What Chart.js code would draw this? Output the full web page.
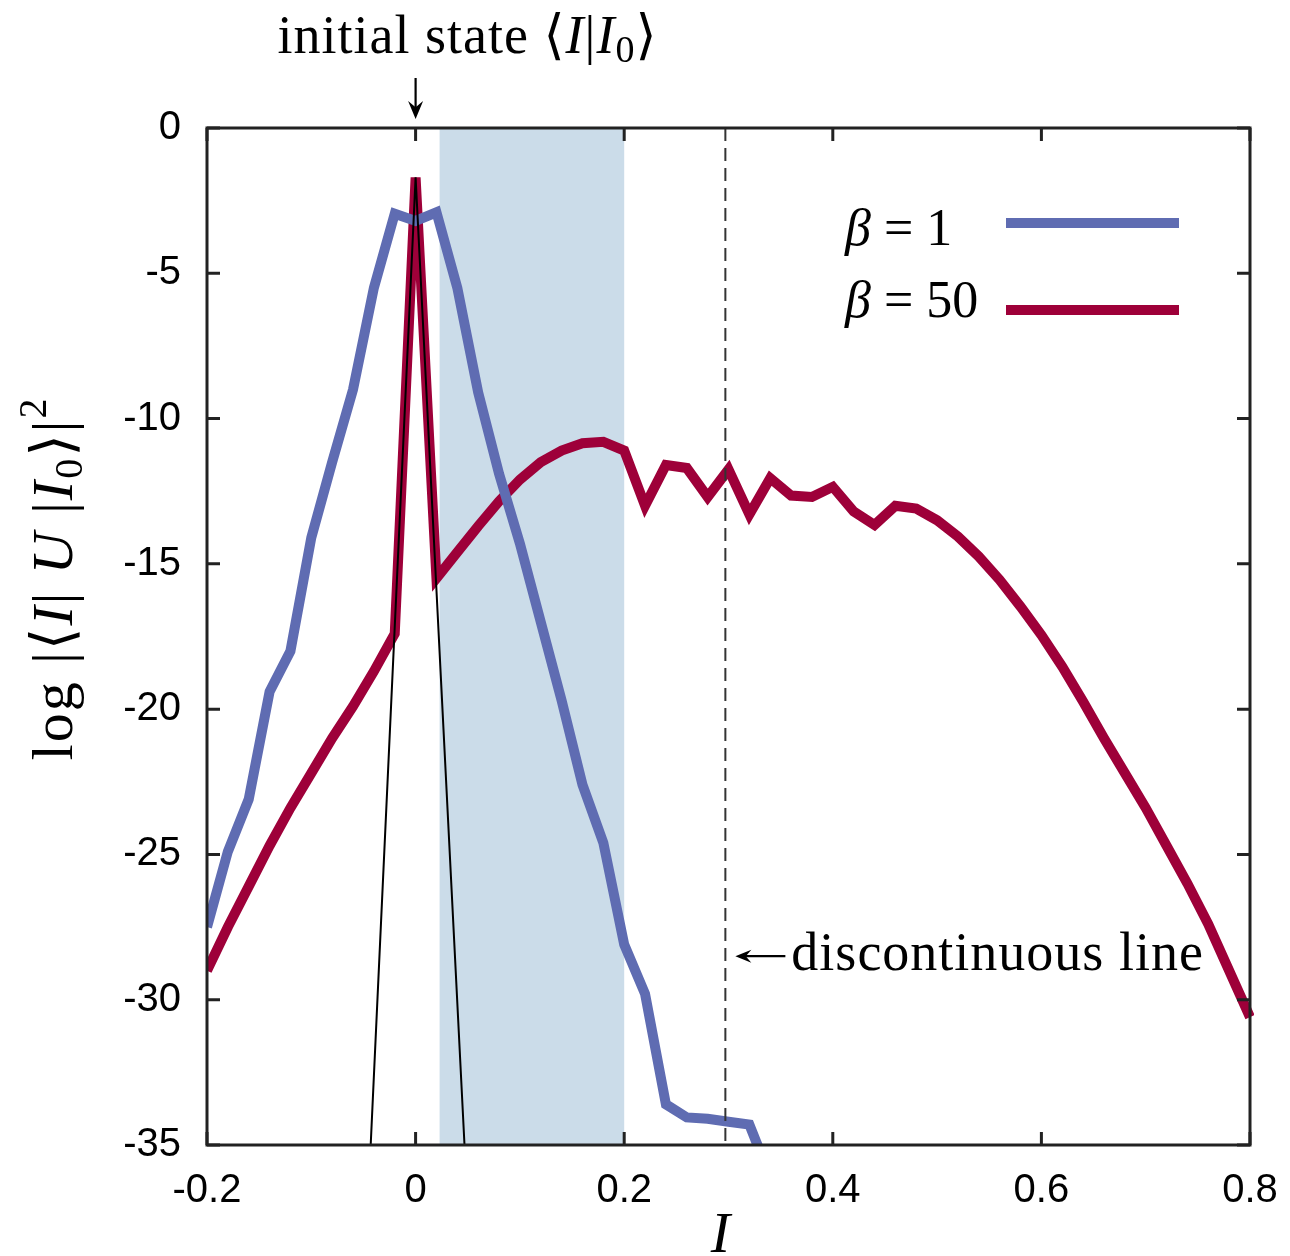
<!DOCTYPE html>
<html><head><meta charset="utf-8">
<script src="https://cdn.jsdelivr.net/npm/chart.js@4.4.1/dist/chart.umd.min.js"></script>
<style>html,body{margin:0;padding:0;background:#fff}#wrap{width:1290px;height:1256px;position:relative}</style>
</head><body><div id="wrap"><canvas id="c" width="1290" height="1256"></canvas></div>
<script>
// ---- data ----
const xTickValues = [-0.2, 0, 0.2, 0.4, 0.6, 0.8];
const xTickLabels = ["-0.2", "0", "0.2", "0.4", "0.6", "0.8"];
const yTickValues = [0, -5, -10, -15, -20, -25, -30, -35];
const yTickLabels = ["0", "-5", "-10", "-15", "-20", "-25", "-30", "-35"];

const beta1X = [-0.20,-0.18,-0.16,-0.14,-0.12,-0.10,-0.08,-0.06,-0.04,-0.02,0.00,0.02,0.04,0.06,0.08,0.10,0.12,0.14,0.16,0.18,0.20,0.22,0.24,0.26,0.28,0.30,0.32,0.34];
const beta1Y = [-27.5,-24.9,-23.1,-19.4,-18.0,-14.1,-11.5,-9.0,-5.5,-2.95,-3.2,-2.9,-5.5,-9.1,-11.9,-14.3,-17.0,-19.7,-22.6,-24.6,-28.1,-29.8,-33.6,-34.05,-34.1,-34.2,-34.3,-36.1];

const beta50X = [-0.20,-0.18,-0.16,-0.14,-0.12,-0.10,-0.08,-0.06,-0.04,-0.02,0.00,0.02,0.04,0.06,0.08,0.10,0.12,0.14,0.16,0.18,0.20,0.22,0.24,0.26,0.28,0.30,0.32,0.34,0.36,0.38,0.40,0.42,0.44,0.46,0.48,0.50,0.52,0.54,0.56,0.58,0.60,0.62,0.64,0.66,0.68,0.70,0.72,0.74,0.76,0.78,0.80];
const beta50Y = [-29.0,-27.5,-26.1,-24.7,-23.4,-22.2,-21.0,-19.9,-18.7,-17.4,-1.7,-15.5,-14.6,-13.7,-12.85,-12.1,-11.5,-11.1,-10.85,-10.8,-11.1,-13.0,-11.6,-11.7,-12.7,-11.75,-13.3,-12.05,-12.65,-12.7,-12.35,-13.2,-13.66,-13.0,-13.1,-13.5,-14.06,-14.75,-15.55,-16.47,-17.45,-18.54,-19.74,-21.0,-22.2,-23.4,-24.7,-26.0,-27.4,-29.0,-30.6];

const initX = [-0.045, 0, 0.05];
const initY = [-36.5, -1.7, -37.2];

const bandRange = [0.023, 0.2];
const dashedX = 0.297;
const seriesLabels = ["β = 1", "β = 50"];

// ---- styles ----
const BLUE = "#5f6cb2", RED = "#9e0039", BAND = "#cbdce9", FRAME = "#222222";
const SERIF = '"Liberation Serif", "DejaVu Serif", serif';
const up = s => `${s}px ${SERIF}`;
const it = s => `italic ${s}px ${SERIF}`;

function rich(ctx, segs, x, y, align) {
  let w = 0;
  segs.forEach(s => { ctx.font = s.f; s.w = ctx.measureText(s.t).width; w += s.w; });
  let cx = align === 'center' ? x - w / 2 : (align === 'right' ? x - w : x);
  ctx.textAlign = 'left';
  ctx.textBaseline = 'alphabetic';
  segs.forEach(s => { ctx.font = s.f; ctx.fillText(s.t, cx, y + (s.dy || 0)); cx += s.w; });
  return w;
}
function arrowHead(ctx, tx, ty, dx, dy, len, half) {
  const px = -dy, py = dx;
  ctx.beginPath();
  ctx.moveTo(tx, ty);
  ctx.lineTo(tx - dx * len + px * half, ty - dy * len + py * half);
  ctx.lineTo(tx - dx * len * 0.65, ty - dy * len * 0.65);
  ctx.lineTo(tx - dx * len - px * half, ty - dy * len - py * half);
  ctx.closePath();
  ctx.fill();
}

const decor = {
  id: 'decor',
  beforeDatasetsDraw(chart) {
    const { ctx, chartArea: a, scales: { x } } = chart;
    ctx.save();
    ctx.fillStyle = BAND;
    const x1 = x.getPixelForValue(bandRange[0]), x2 = x.getPixelForValue(bandRange[1]);
    ctx.fillRect(x1, a.top, x2 - x1, a.bottom - a.top);
    ctx.restore();
  },
  afterDatasetsDraw(chart) {
    const { ctx, chartArea: a, scales: { x, y } } = chart;
    ctx.save();
    const xd = x.getPixelForValue(dashedX);
    ctx.strokeStyle = '#333';
    ctx.lineWidth = 2;
    ctx.setLineDash([13, 7]);
    ctx.beginPath(); ctx.moveTo(xd, a.top); ctx.lineTo(xd, a.bottom); ctx.stroke();
    ctx.setLineDash([]);
    ctx.strokeStyle = FRAME;
    ctx.lineWidth = 3;
    ctx.strokeRect(a.left, a.top, a.right - a.left, a.bottom - a.top);
    const TL = 13;
    ctx.beginPath();
    xTickValues.forEach(v => {
      const p = x.getPixelForValue(v);
      ctx.moveTo(p, a.bottom); ctx.lineTo(p, a.bottom - TL);
      ctx.moveTo(p, a.top); ctx.lineTo(p, a.top + TL);
    });
    yTickValues.forEach(v => {
      const p = y.getPixelForValue(v);
      ctx.moveTo(a.left, p); ctx.lineTo(a.left + TL, p);
      ctx.moveTo(a.right, p); ctx.lineTo(a.right - TL, p);
    });
    ctx.stroke();

    ctx.fillStyle = '#000';
    ctx.strokeStyle = '#000';
    ctx.letterSpacing = '1px';
    const x0 = x.getPixelForValue(0);
    rich(ctx, [
      { t: 'initial state ', f: up(54) },
      { t: '⟨', f: up(54) }, { t: 'I', f: it(54) }, { t: '|', f: up(54) },
      { t: 'I', f: it(54) }, { t: '0', f: up(38), dy: 9 }, { t: '⟩', f: up(54) }
    ], x0 - 138, 53, 'left');
    ctx.lineWidth = 2.2;
    ctx.beginPath(); ctx.moveTo(x0, 78); ctx.lineTo(x0, 110); ctx.stroke();
    arrowHead(ctx, x0, 119, 0, 1, 18, 7.5);

    const ya = y.getPixelForValue(-28.5);
    ctx.beginPath(); ctx.moveTo(xd + 14, ya); ctx.lineTo(xd + 60, ya); ctx.stroke();
    arrowHead(ctx, xd + 10, ya, -1, 0, 16, 6.5);
    rich(ctx, [{ t: 'discontinuous line', f: up(54) }], xd + 66, ya + 14, 'left');
    ctx.letterSpacing = '0px';

    const ds = chart.data.datasets;
    const legendRows = [{ i: 1, ty: 245, ly: 223 }, { i: 2, ty: 317, ly: 310 }];
    legendRows.forEach(r => {
      const lab = ds[r.i].label;
      ctx.fillStyle = '#000';
      rich(ctx, [{ t: lab.slice(0, 1), f: it(52) }, { t: lab.slice(1), f: up(52) }], a.right - 405, r.ty, 'left');
      ctx.strokeStyle = ds[r.i].borderColor;
      ctx.lineWidth = 10;
      ctx.beginPath(); ctx.moveTo(a.right - 244, r.ly); ctx.lineTo(a.right - 71, r.ly); ctx.stroke();
    });

    ctx.fillStyle = '#000';
    rich(ctx, [{ t: 'I', f: it(58) }], (a.left + a.right) / 2 - 8, 1252, 'center');
    ctx.save();
    ctx.translate(72, (a.top + a.bottom) / 2 - 58);
    ctx.rotate(-Math.PI / 2);
    ctx.letterSpacing = '2px';
    rich(ctx, [
      { t: 'log ', f: up(58) }, { t: '|⟨', f: up(58) }, { t: 'I', f: it(58) },
      { t: '| ', f: up(58) }, { t: 'U', f: it(58) }, { t: ' |', f: up(58) },
      { t: 'I', f: it(58) }, { t: '0', f: up(40), dy: 10 }, { t: '⟩|', f: up(58) },
      { t: '2', f: up(40), dy: -26 }
    ], 0, 0, 'center');
    ctx.letterSpacing = '0px';
    ctx.restore();
    ctx.restore();
  }
};

const pts = (xs, ys) => xs.map((v, i) => ({ x: v, y: ys[i] }));

new Chart(document.getElementById('c'), {
  type: 'line',
  data: {
    datasets: [
      { label: 'initial', data: pts(initX, initY), borderColor: '#000', borderWidth: 2, pointRadius: 0, order: 0, clip: 0 },
      { label: seriesLabels[0], data: pts(beta1X, beta1Y), borderColor: BLUE, borderWidth: 10, pointRadius: 0, order: 1, clip: 0 },
      { label: seriesLabels[1], data: pts(beta50X, beta50Y), borderColor: RED, borderWidth: 10, pointRadius: 0, order: 2, clip: { left: 0, top: 0, bottom: 0, right: 4 } }
    ]
  },
  options: {
    responsive: false,
    animation: false,
    devicePixelRatio: 1,
    elements: { line: { tension: 0, borderJoinStyle: 'miter', borderCapStyle: 'butt' } },
    layout: { padding: { top: 128, right: 40, left: 0, bottom: 0 } },
    plugins: { legend: { display: false }, tooltip: { enabled: false } },
    scales: {
      x: {
        type: 'linear', min: -0.2, max: 0.8,
        grid: { display: false, drawTicks: false }, border: { display: false },
        afterBuildTicks: s => { s.ticks = xTickValues.map(v => ({ value: v })); },
        afterFit: s => { s.height = 111; s.paddingLeft = 0; s.paddingRight = 0; },
        ticks: {
          autoSkip: false, maxRotation: 0, padding: 22, color: '#000',
          font: { family: '"Liberation Sans", Arial, sans-serif', size: 40 },
          callback: (v, i) => xTickLabels[i]
        }
      },
      y: {
        type: 'linear', min: -35, max: 0,
        grid: { display: false, drawTicks: false }, border: { display: false },
        afterBuildTicks: s => { s.ticks = yTickValues.map(v => ({ value: v })); },
        afterFit: s => { s.width = 207; s.paddingTop = 0; s.paddingBottom = 0; },
        ticks: {
          autoSkip: false, padding: 26, color: '#000',
          font: { family: '"Liberation Sans", Arial, sans-serif', size: 40 },
          callback: (v, i) => yTickLabels[i]
        }
      }
    }
  },
  plugins: [decor]
});
</script></body></html>
